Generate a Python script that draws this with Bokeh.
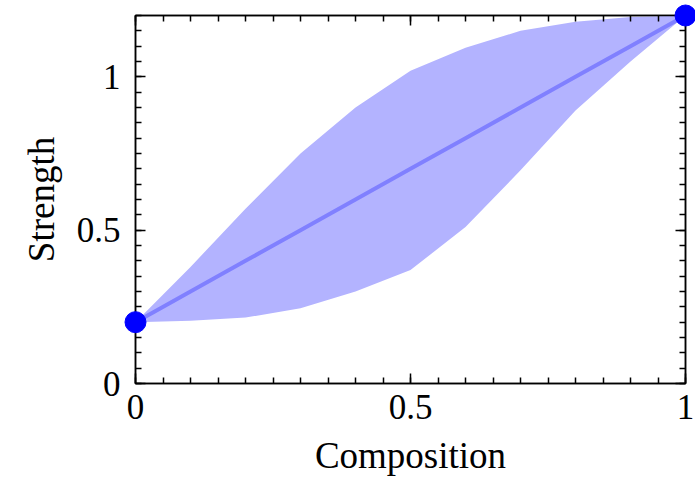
from bokeh.plotting import figure
from bokeh.models import LinearAxis, SingleIntervalTicker, Range1d, CustomJSTickFormatter
from bokeh.embed import file_html
from bokeh.resources import INLINE

composition = [0.0, 0.1, 0.2, 0.3, 0.4, 0.5, 0.6, 0.7, 0.8, 0.9, 1.0]
strength_mean = [0.2, 0.3, 0.4, 0.5, 0.6, 0.7, 0.8, 0.9, 1.0, 1.1, 1.2]
strength_upper = [0.2, 0.38, 0.57, 0.75, 0.90, 1.02, 1.095, 1.15, 1.18, 1.195, 1.2]
strength_lower = [0.2, 0.205, 0.215, 0.245, 0.30, 0.37, 0.51, 0.695, 0.89, 1.05, 1.2]
end_x = [0.0, 1.0]
end_y = [0.2, 1.2]

FONT = "Liberation Serif"
FS = "35px"

p = figure(width=695, height=479, output_backend="svg", toolbar_location=None,
           x_range=Range1d(0, 1), y_range=Range1d(0, 1.2),
           min_border_left=135, min_border_right=10, min_border_top=15, min_border_bottom=96,
           x_axis_label="Composition", y_axis_label="Strength")
p.background_fill_color = "white"
p.border_fill_color = "white"
p.outline_line_color = "black"
p.outline_line_width = 1.5
p.grid.visible = False

p.varea(x=composition, y1=strength_lower, y2=strength_upper, fill_color="#b3b3ff", fill_alpha=1.0)
p.line(composition, strength_mean, line_color="#8080ff", line_width=4)
p.scatter(end_x, end_y, size=21, fill_color="#0000ff", line_color="#0000ff", level="overlay")

def style(ax, labels=True):
    ax.ticker = SingleIntervalTicker(interval=0.5, num_minor_ticks=10)
    ax.axis_line_color = "black"
    ax.axis_line_width = 1.5
    ax.major_tick_in = 10
    ax.major_tick_out = 0
    ax.minor_tick_in = 6
    ax.minor_tick_out = 0
    ax.major_tick_line_width = 1.5
    ax.minor_tick_line_width = 1.5
    ax.major_tick_line_color = "black"
    ax.minor_tick_line_color = "black"
    ax.major_label_text_font = FONT
    ax.major_label_text_font_size = FS
    ax.major_label_text_color = "black"
    ax.axis_label_text_font = FONT
    ax.axis_label_text_font_size = "37px"
    ax.axis_label_text_font_style = "normal"
    ax.axis_label_text_color = "black"
    if not labels:
        ax.formatter = CustomJSTickFormatter(code="return ''")
        ax.major_label_text_font_size = "1px"

for ax in p.xaxis:
    style(ax)
    ax.major_label_standoff = 11
    ax.axis_label_standoff = 13
for ax in p.yaxis:
    style(ax)
    ax.major_label_standoff = 15
    ax.axis_label_standoff = 12

top = LinearAxis()
style(top, labels=False)
top.major_label_standoff = 0
p.add_layout(top, "above")
right = LinearAxis()
style(right, labels=False)
right.major_label_standoff = 0
p.add_layout(right, "right")

open("out.html", "w").write(file_html(p, INLINE))
